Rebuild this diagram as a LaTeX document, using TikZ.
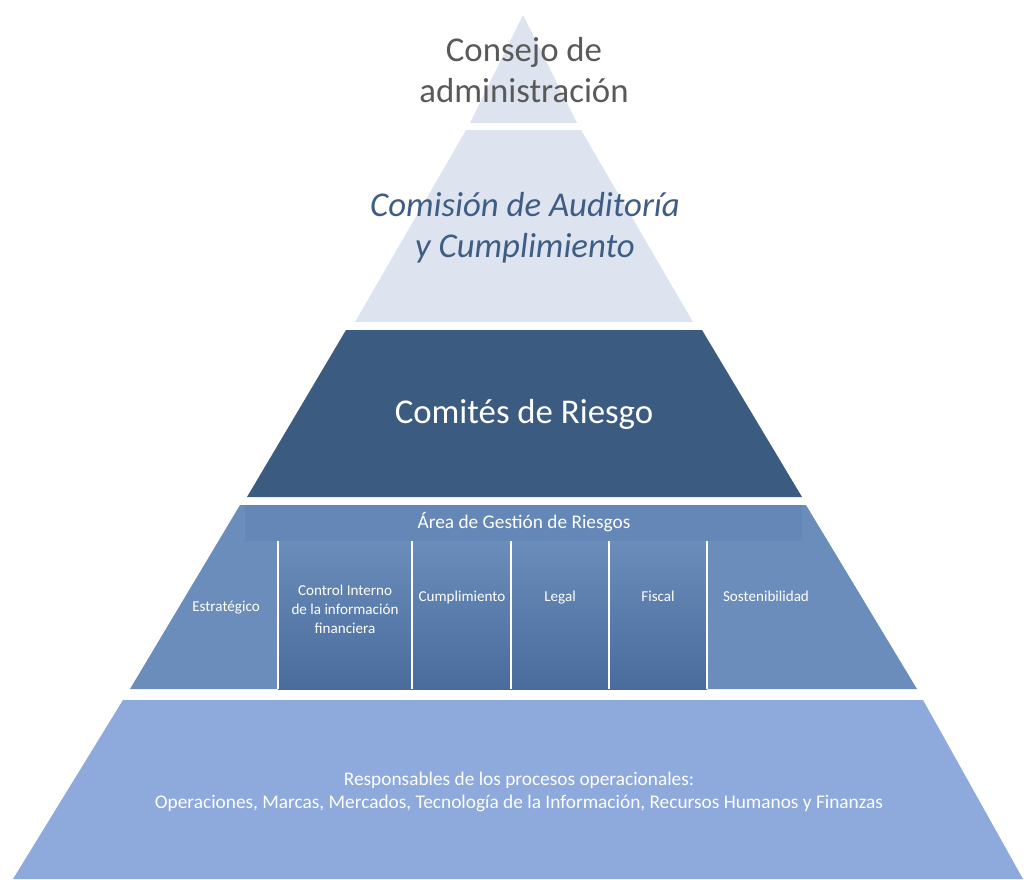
\documentclass[tikz,border=0pt]{standalone}
\usepackage{fontspec}
\setmainfont{Carlito}
\definecolor{lightlayer}{HTML}{DDE4EF}
\definecolor{darklayer}{HTML}{3B5B80}
\definecolor{midlayer}{HTML}{6A8DBB}
\definecolor{bandcol}{HTML}{6487B7}
\definecolor{colbottom}{HTML}{4A6C9D}
\definecolor{baselayer}{HTML}{8EA9DB}
\definecolor{graytext}{HTML}{595959}
\definecolor{bluetext}{HTML}{3E5D85}

\begin{document}

\begin{tikzpicture}[
    x=0.02cm, y=-0.02cm,
    layer/.style={draw=none},
    column/.style={draw=none, top color=midlayer, bottom color=colbottom},
    divider/.style={draw=white, line width=1.2pt},
    big_label/.style={align=center, font=\fontsize{19.8}{23.5}\selectfont},
    col_label/.style={align=center, text=white, font=\fontsize{8.6}{10.8}\selectfont},
    small_label/.style={align=center, text=white, font=\fontsize{11}{13}\selectfont}
]
\useasboundingbox (0,0) rectangle (1024,879);

% LEVEL 1: Board
\fill[layer, lightlayer] (523,15) -- (577,123) -- (470,123) -- cycle;
\node (consejo) [big_label, text=graytext] at (524,70) {Consejo de\\administración};

% LEVEL 2: Audit commission
\fill[layer, lightlayer] (466,130) -- (581,130) -- (693,322) -- (355,322) -- cycle;
\node (comision) [big_label, text=bluetext, font=\fontsize{19.8}{23.5}\selectfont\itshape] at (525,228) {Comisión de Auditoría\\y Cumplimiento};

% LEVEL 3: Risk committees
\fill[layer, darklayer] (346,330) -- (702,330) -- (802,497) -- (247,497) -- cycle;
\node (comites) [big_label, text=white] at (524,414) {Comités de Riesgo};

% LEVEL 4: Risk management area
\fill[layer, midlayer] (240,505) -- (806,505) -- (917,689) -- (130,689) -- cycle;
\fill[bandcol] (245,505) rectangle (802,541);
\node (gestion) [small_label] at (524,522) {Área de Gestión de Riesgos};

% shaded columns
\foreach \xa/\xb in {278/412, 412/511, 511/609, 609/707}
    \shade[column] (\xa,541) rectangle (\xb,689);
\foreach \xd in {278, 412, 511, 609, 707}
    \draw[divider] (\xd,541) -- (\xd,689);

\node (estrategico) [col_label, anchor=base] at (226,611) {Estratégico};
\node (control) [col_label] at (345,609) {Control Interno\\de la información\\financiera};
\node (cumplimiento) [col_label, anchor=base] at (462,601) {Cumplimiento};
\node (legal) [col_label, anchor=base] at (560,601) {Legal};
\node (fiscal) [col_label, anchor=base] at (658,601) {Fiscal};
\node (sostenibilidad) [col_label, anchor=base] at (766,601) {Sostenibilidad};

% LEVEL 5: Process owners
\fill[layer, baselayer] (123,700) -- (923,700) -- (1023,879) -- (13,879) -- cycle;
\node (responsables) [small_label] at (519,792) {Responsables de los procesos operacionales:\\Operaciones, Marcas, Mercados, Tecnología de la Información, Recursos Humanos y Finanzas};

\end{tikzpicture}

\end{document}
